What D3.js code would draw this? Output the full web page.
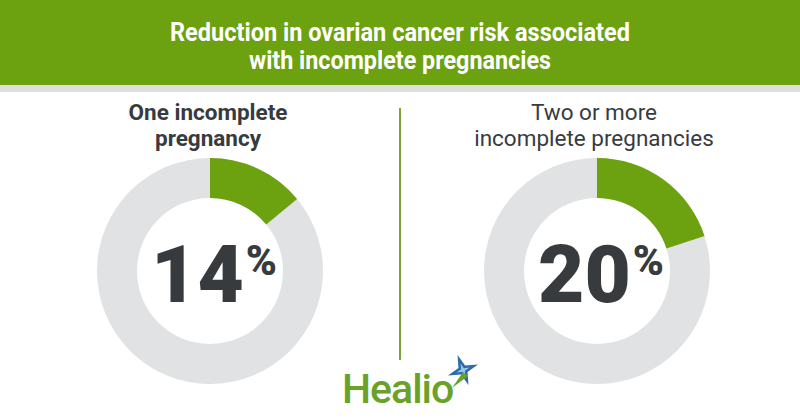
<!DOCTYPE html>
<html><head><meta charset="utf-8">
<script src="https://cdn.jsdelivr.net/npm/d3@7"></script>
<style>body{margin:0;background:#fff}svg{display:block}</style>
</head><body>
<svg id="c" width="800" height="420"></svg>
<script>
const titleLines = ["Reduction in ovarian cancer risk associated", "with incomplete pregnancies"];
const categories = ["One incomplete pregnancy", "Two or more incomplete pregnancies"];
const categoryLines = [["One incomplete", "pregnancy"], ["Two or more", "incomplete pregnancies"]];
const values = [14, 20];
const valueLabels = ["14", "20"];

const W = 800, H = 420;
const svg = d3.select("#c");
const green = "#6ca10f", gray = "#e1e2e3", dark = "#383b3e";

svg.append("rect").attr("width", W).attr("height", H).attr("fill", "#fff");
svg.append("rect").attr("width", W).attr("height", 85).attr("fill", green);
svg.append("rect").attr("y", 85).attr("width", W).attr("height", 7).attr("fill", "#dedede");

const titleWidths = [460, 302];
svg.selectAll("text.title").data(titleLines).join("text")
  .attr("class", "title")
  .attr("x", W / 2).attr("y", (d, i) => 41 + i * 28)
  .attr("text-anchor", "middle").attr("fill", "#fff")
  .attr("textLength", (d, i) => titleWidths[i]).attr("lengthAdjust", "spacingAndGlyphs")
  .style("font-family", "Roboto, sans-serif")
  .style("font-weight", "bold").style("font-size", "25px").text(d => d);

svg.append("line").attr("x1", 400).attr("x2", 400).attr("y1", 108).attr("y2", 360)
  .attr("stroke", "#7ea33a").attr("stroke-width", 2);

const x = d3.scaleOrdinal().domain(categories).range([210, 597]);
const cy = 271;
const angle = d3.scaleLinear().domain([0, 100]).range([0, 2 * Math.PI]);
const outerR = 113, innerR = 73;
const arc = d3.arc().innerRadius(innerR).outerRadius(outerR);
const subX = [-2, -3];

categories.forEach((cat, i) => {
  const g = svg.append("g").attr("transform", `translate(${x(cat)},${cy})`);
  g.append("path").attr("d", arc({startAngle: 0, endAngle: 2 * Math.PI})).attr("fill", gray);
  g.append("path").attr("d", arc({startAngle: 0, endAngle: angle(values[i])})).attr("fill", green);
  const t = g.append("text").attr("text-anchor", "middle").attr("x", 4).attr("y", 31)
    .attr("fill", dark).style("font-family", "Roboto, sans-serif").style("font-weight", 900);
  t.append("tspan").style("font-size", "80px").text(valueLabels[i]);
  t.append("tspan").style("font-size", "42px").attr("dx", 2).attr("dy", -27).text("%");

  svg.selectAll(null).data(categoryLines[i]).join("text")
    .attr("x", x(cat) + subX[i]).attr("y", (d, j) => 120 + j * 26)
    .attr("text-anchor", "middle").attr("fill", dark)
    .style("font-family", "Roboto, sans-serif")
    .style("font-weight", i === 0 ? 700 : 400).style("font-size", "22.5px").text(d => d);
});

// Healio wordmark
const logo = svg.append("g");
logo.append("text").attr("x", 342).attr("y", 403).attr("fill", "#6aa229")
  .style("font-family", "Roboto, sans-serif").style("font-weight", 500).style("font-size", "41px")
  .style("letter-spacing", "-1px").text("Healio");
const starPts = (ro, ri) => d3.range(8).map(k => [k * Math.PI / 4, k % 2 ? ri : ro]);
const radial = d3.lineRadial().curve(d3.curveLinearClosed);
const sg = logo.append("g").attr("transform", "translate(463,370) rotate(-20)");
sg.append("path").attr("d", radial(starPts(16, 5))).attr("fill", "#2d6cab");
sg.append("path").attr("d", radial(starPts(7, 2))).attr("fill", "#9cc8ea");
logo.append("path").attr("d", "M463,372 L452,388 L468,376 Z").attr("fill", "#6aa229");
</script>
</body></html>
